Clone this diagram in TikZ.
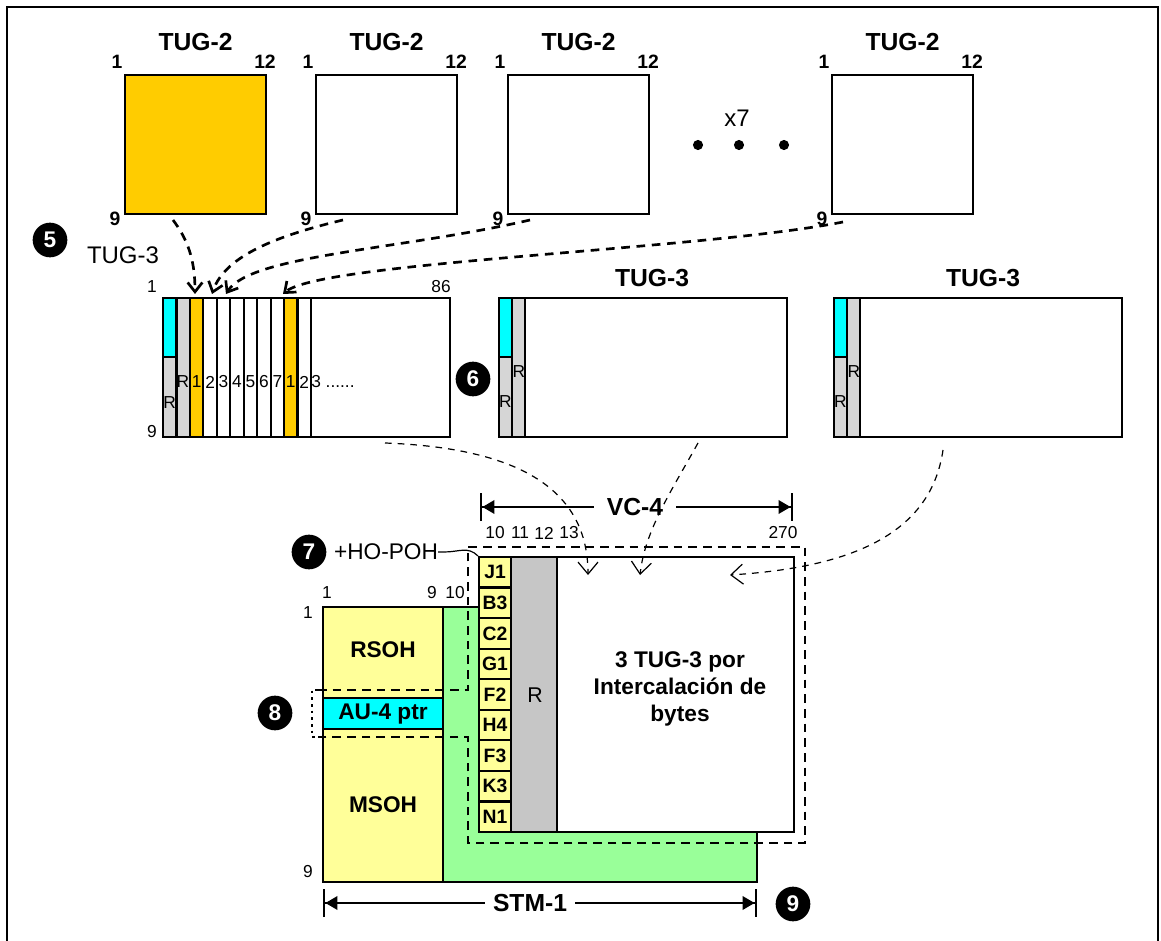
\documentclass[tikz,border=0pt]{standalone}
\usepackage{fontspec}
\setmainfont{Liberation Sans}
\usetikzlibrary{arrows.meta,calc,positioning}
\definecolor{tugyellow}{HTML}{FFCC00}
\definecolor{ptrcyan}{HTML}{00FFFF}
\definecolor{stuffgray}{HTML}{D6D6D6}
\definecolor{rgray}{HTML}{C6C6C6}
\definecolor{ohyellow}{HTML}{FFFF99}
\definecolor{stmgreen}{HTML}{99FF99}
\tikzset{
  box line/.style={black, line width=2.2pt},
  col line/.style={black, line width=1.6pt},
  title/.style={font=\bfseries\fontsize{18.5}{18.5}\selectfont, inner sep=0pt},
  plain title/.style={font=\fontsize{18}{18}\selectfont, inner sep=0pt},
  corner num/.style={font=\bfseries\fontsize{14.5}{14.5}\selectfont, inner sep=0pt},
  small num/.style={font=\fontsize{13}{13}\selectfont, inner sep=0pt},
  block text/.style={font=\bfseries\fontsize{17}{17}\selectfont, inner sep=0pt},
  poh cell/.style={
    draw=black, line width=1.6pt, fill=ohyellow,
    minimum width=24pt, minimum height=22.9pt, inner sep=0pt,
    font=\bfseries\fontsize{14.5}{14.5}\selectfont
  },
  step dot/.style={
    circle, fill=black, text=white, inner sep=0pt, minimum size=26pt,
    font=\bfseries\fontsize{17}{17}\selectfont
  },
  feed arrow/.style={
    line width=2pt, dash pattern=on 6.5pt off 5pt,
    -{Straight Barb[length=7pt,width=11pt]}
  },
  map arrow/.style={
    line width=0.9pt, dash pattern=on 5pt off 4.5pt,
    -{Straight Barb[length=9pt,width=15pt]}
  },
  frame dash/.style={line width=2pt, dash pattern=on 6.5pt off 4.5pt},
  dimension/.style={
    line width=1.8pt,
    {Bar[width=21pt]Triangle[length=9pt,width=10pt]}-{Triangle[length=9pt,width=10pt]Bar[width=21pt]}
  }
}

\begin{document}
\begin{tikzpicture}[x=0.75pt, y=-0.75pt]

  \useasboundingbox (0,0) rectangle (1161,941);
  \draw[line width=1.8pt] (7,941) -- (7,7) -- (1158,7) -- (1158,941);

  % TUG-2 row.
  \foreach \xl/\nm/\fc in {125/a/tugyellow,316/b/white,508/c/white,832/d/white} {
    \draw[box line, fill=\fc] (\xl,75) rectangle ++(141,139);
    \node[title] (t2title\nm) at (\xl+70.5,42) {TUG-2};
    \node[corner num] (t2one\nm) at (\xl-8,61.5) {1};
    \node[corner num] (t2twelve\nm) at (\xl+140,61.5) {12};
    \node[corner num] (t2nine\nm) at (\xl-10,219) {9};
  }
  \node[plain title] (times7) at (737,118) {x7};
  \fill (698,145) circle[radius=3.8pt];
  \fill (739,145) circle[radius=3.8pt];
  \fill (784,145) circle[radius=3.8pt];

  % TUG-3 with interleaved TUG-2 columns.
  \node[step dot] (step5) at (50,240) {5};
  \node[plain title] (tug3name) at (123,255) {TUG-3};
  \fill[ptrcyan] (163,298) rectangle (176.45,357);
  \fill[stuffgray] (163,357) rectangle (176.45,437);
  \fill[stuffgray] (176.45,298) rectangle (189.9,437);
  \fill[tugyellow] (189.9,298) rectangle (203.35,437);
  \fill[tugyellow] (284.05,298) rectangle (297.5,437);
  \foreach \k in {1,...,11}
    \draw[col line] ({163+13.45*\k},298) -- ({163+13.45*\k},437);
  \draw[col line] (163,357) -- (176.45,357);
  \draw[box line] (163,298) rectangle (450,437);
  \node[small num] (a1) at (152,287) {1};
  \node[small num] (a86) at (441,287) {86};
  \node[small num] (a9) at (152,432) {9};
  \node[small num] (aR1) at (169.7,403) {R};
  \node[small num] (aR2) at (183,382) {R};
  \foreach \d [count=\k from 3] in {1,2,3,4,5,6,7,1,2}
    \node[small num] (acol\k) at ({163+13.45*(\k-0.5)},382) {\d};
  \node[small num, anchor=west] (amore) at (311,382) {3 ......};

  \coordinate (in3) at (195,294);
  \coordinate (in4) at (212,294);
  \coordinate (in5) at (226,294);
  \coordinate (in10) at (283,294);
  \coordinate (outa) at (173,220);
  \coordinate (outb) at (343,220);
  \coordinate (outc) at (530,220);
  \coordinate (outd) at (843,222);

  \draw[feed arrow] (outa) .. controls (188,240) and (195,260) .. (in3);
  \draw[feed arrow] (outb) .. controls (280,235) and (225,255) .. (in4);
  \draw[feed arrow] (outc) .. controls (400,250) and (250,255) .. (in5);
  \draw[feed arrow] (outd) .. controls (700,250) and (320,262) .. (in10);

  % The two other TUG-3.
  \node[step dot] (step6) at (473,379) {6};
  \foreach \xl/\xr/\tx/\nm in {499/787/652/b,834/1122/983/c} {
    \fill[ptrcyan] (\xl,298) rectangle (\xl+13,357);
    \fill[stuffgray] (\xl,357) rectangle (\xl+13,437);
    \fill[stuffgray] (\xl+13,298) rectangle (\xl+26,437);
    \draw[col line] (\xl+13,298) -- (\xl+13,437);
    \draw[col line] (\xl+26,298) -- (\xl+26,437);
    \draw[col line] (\xl,357) -- (\xl+13,357);
    \draw[box line] (\xl,298) rectangle (\xr,437);
    \node[title] (t3title\nm) at (\tx,278) {TUG-3};
    \node[small num] (t3Ra\nm) at (\xl+6.5,402) {R};
    \node[small num] (t3Rb\nm) at (\xl+20,372) {R};
  }

  % STM-1 frame.
  \draw[box line, fill=stmgreen] (443,607) -- (479,607) -- (479,832)
    -- (757,832) -- (757,882) -- (443,882) -- cycle;
  \draw[box line, fill=ohyellow] (323,607) rectangle (443,698);
  \draw[box line, fill=ptrcyan] (323,698) rectangle (443,729);
  \draw[box line, fill=ohyellow] (323,729) rectangle (443,882);
  \node[block text] (rsoh) at (383,650) {RSOH};
  \node[block text] (auptr) at (383,714) {AU-4 ptr};
  \node[block text] (msoh) at (383,805) {MSOH};

  % VC-4 with its path overhead.
  \draw[box line, fill=white] (479,557) rectangle (794,832);
  \draw[box line, fill=rgray] (511,557) rectangle (557,832);
  \foreach \b [count=\k] in {J1,B3,C2,G1,F2,H4,F3,K3,N1}
    \node[poh cell] (poh\k) at (495,{557+30.56*(\k-0.5)}) {\b};
  \node[font=\fontsize{16}{16}\selectfont, inner sep=0pt] (vcR) at (535,695) {R};
  \node[block text, align=center, font=\bfseries\fontsize{17}{20.3}\selectfont]
    (payload) at (680,689) {3 TUG-3 por\\Intercalación de\\bytes};

  \draw[frame dash] (318,690) -- (468,690) -- (468,547) -- (805,547)
    -- (805,843) -- (468,843) -- (468,737) -- (318,737);
  \draw[line width=2pt, dash pattern=on 2pt off 3pt]
    (318,690) -- (312,690) -- (312,737) -- (318,737);

  \node[small num] (vc10) at (495,533) {10};
  \node[small num] (vc11) at (520,533) {11};
  \node[small num] (vc12) at (544,533) {12};
  \node[small num] (vc13) at (569,533) {13};
  \node[small num] (vc270) at (783,533) {270};
  \node[small num] (s1) at (327,593) {1};
  \node[small num] (s9) at (432,593) {9};
  \node[small num] (s10) at (455,593) {10};
  \node[small num] (r1) at (308,613) {1};
  \node[small num] (r9) at (308,872) {9};

  \node[step dot] (step7) at (309,552) {7};
  \node[font=\fontsize{17}{17}\selectfont, inner sep=0pt] (hopoh) at (386,552) {+HO-POH};
  \draw[line width=0.9pt] (hopoh.east) -- ++(6,0)
    .. controls +(15,0) and +(-10,-10) .. (poh1.north west);

  \node[step dot] (step8) at (275,713) {8};
  \node[step dot] (step9) at (793,904) {9};

  % Dimensions.
  \coordinate (vcl) at (480,507);
  \coordinate (vcr) at (793,507);
  \draw[dimension] (vcl) -- (vcr)
    node[pos=0.495, fill=white, title, inner xsep=10pt, inner ysep=2pt] (vclabel) {VC-4};
  \coordinate (stml) at (323,903);
  \coordinate (stmr) at (757,903);
  \draw[dimension] (stml) -- (stmr)
    node[pos=0.477, fill=white, title, inner xsep=6pt, inner ysep=2pt] (stmlabel) {STM-1};

  % TUG-3 into VC-4.
  \coordinate (froma) at (385,443);
  \coordinate (fromb) at (698,443);
  \coordinate (fromc) at (943,450);
  \coordinate (tothirteen) at (588,575);
  \coordinate (tonext) at (640,575);
  \coordinate (tolast) at (730,575);
  \draw[map arrow] (froma) .. controls (520,448) and (588,490) .. (tothirteen);
  \draw[map arrow] (fromb) .. controls (672,490) and (645,530) .. (tonext);
  \draw[map arrow] (fromc) .. controls (930,540) and (840,568) .. (tolast);

\end{tikzpicture}
\end{document}
